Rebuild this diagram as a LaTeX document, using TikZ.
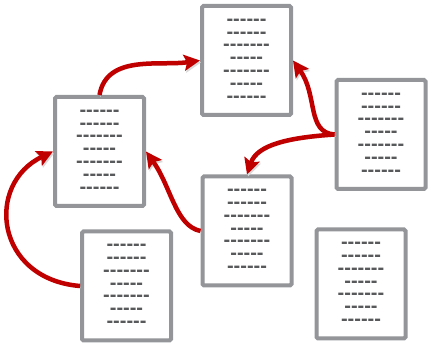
\documentclass[tikz,border=0pt]{standalone}
\usepackage{fontspec}
\newfontfamily\dashfont{Liberation Sans}
\usetikzlibrary{arrows.meta}
\definecolor{frame}{HTML}{939598}
\definecolor{ink}{HTML}{58595B}
\definecolor{linkred}{HTML}{C00000}
\definecolor{shade}{HTML}{DADADA}
\newcommand\doclines{------\\------\\-------\\-----\\-------\\-----\\------}
\tikzset{
  doc/.style ={draw=frame, line width=4pt, rounded corners=1.5pt, fill=white,
               minimum width=89pt, minimum height=109pt, inner sep=0pt,
               align=center, text=ink,
               font=\dashfont\bfseries\fontsize{20}{12.8}\selectfont},
  link/.style={-{Stealth[length=16pt,width=16pt,inset=3pt]}, line width=4.5pt,
               draw=linkred,
               preaction={draw=shade, transform canvas={xshift=1pt,yshift=-2pt}}}
}
\begin{document}
\begin{tikzpicture}[x=1pt, y=1pt]
  \useasboundingbox (0,0) rectangle (428,344);

  \node[doc] (top)   at (246.5,283.5) {\doclines};
  \node[doc] (left)  at (99.5,192.5)  {\doclines};
  \node[doc] (right) at (381,209.5)   {\doclines};
  \node[doc] (mid)   at (247,113)     {\doclines};
  \node[doc] (low)   at (126.5,58)    {\doclines};
  \node[doc] (spare) at (361,60)      {\doclines};

  \draw[link] (left.north) to[out=80, in=188] (top.west);
  \draw[link] (right.west) .. controls +(-28,2) and +(25,-35) .. (top.east);
  \draw[link] (right.west) .. controls +(-45,-3) and +(10,30) .. (mid.north);
  \draw[link] (mid.west) .. controls +(-25,5) and +(25,-35) .. (left.east);
  \draw[link] (low.west) .. controls (-5,65) and (-15,160) .. (left.west);
\end{tikzpicture}
\end{document}
